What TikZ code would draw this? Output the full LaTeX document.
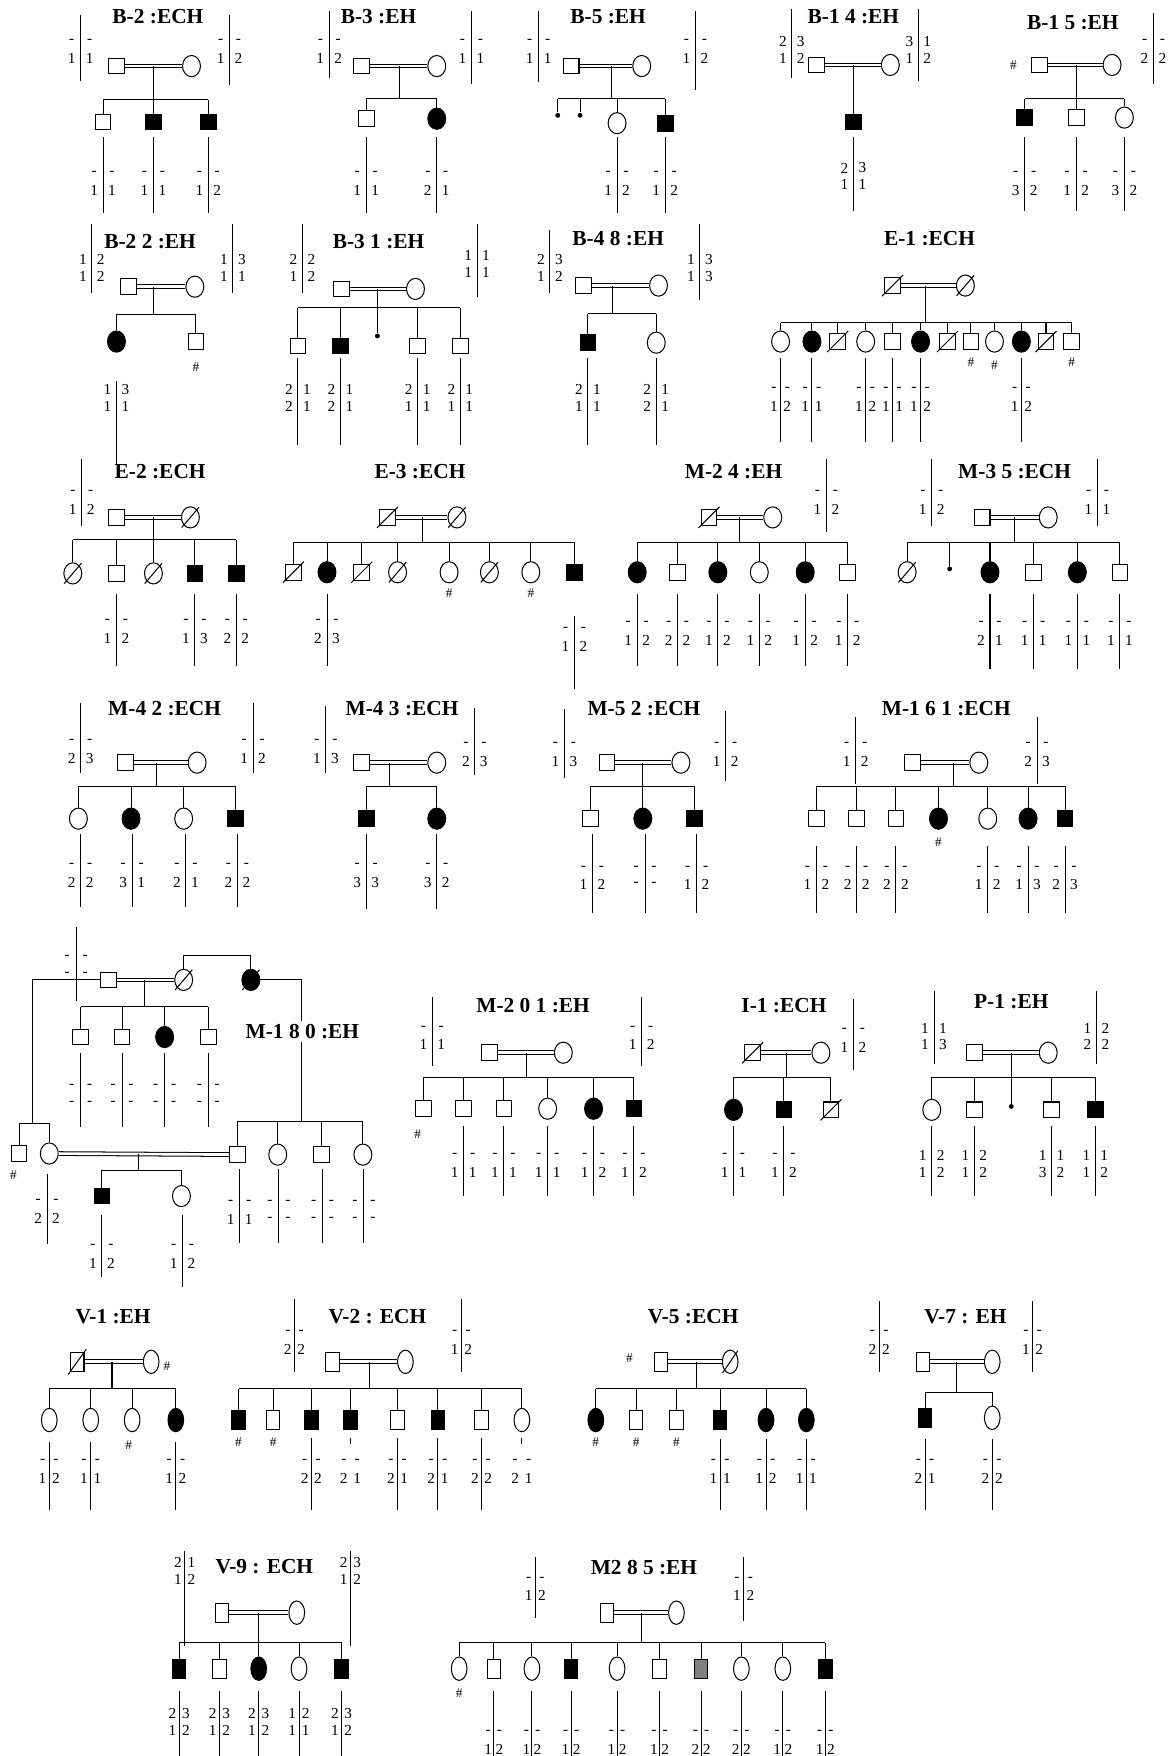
\documentclass[tikz,border=0pt]{standalone}
\usepackage{fontspec}
\setmainfont{Liberation Serif}
\usetikzlibrary{shapes.geometric}
% haplotype bar: name, x, top, bottom, text y, left top, left bottom, right top, right bottom
\newcommand{\hapoff}{8}
\newcommand{\hapbar}[9]{%
  \draw (#2,#3) -- (#2,#4);
  \node[hl] (#1a) at ({#2-\hapoff},#5) {#6};
  \node[hl] (#1b) at ({#2-\hapoff},{#5+15}) {#7};
  \node[hl] (#1c) at ({#2+\hapoff},#5) {#8};
  \node[hl] (#1d) at ({#2+\hapoff},{#5+15}) {#9};
}
\begin{document}
\begin{tikzpicture}[x=0.55pt, y=-0.55pt, line width=0.5pt,
  every node/.style={inner sep=0pt},
  ttl/.style={font=\fontsize{10.5}{12}\selectfont\bfseries, inner sep=1.5pt},
  hl/.style={font=\fontsize{7.5}{8}\selectfont},
  hs/.style={font=\fontsize{6.5}{7}\selectfont},
  sq/.style={draw, rectangle, minimum width=7.7pt, minimum height=7.7pt},
  ci/.style={draw, ellipse, minimum width=8.8pt, minimum height=10.4pt},
  sqa/.style={sq, fill=black},
  cia/.style={ci, fill=black},
  sqd/.style={sq, dec},
  cid/.style={ci, dec},
  sqg/.style={sq, fill=gray},
  dot/.style={circle, fill=black, minimum size=2.4pt},
  dec/.style={append after command={(\tikzlastnode.south west) edge[shorten <=-1.5pt, shorten >=-1.5pt] (\tikzlastnode.north east)}},
  mar/.style={double, double distance=1.3pt}]
\useasboundingbox (0,0) rectangle (1049,1568);

%% ---------- row 1 ----------
% B-2
\node[ttl] (b2) at (141,15) {B-2 :ECH};
\node[sq] (b2f) at (104,59) {};
\node[ci] (b2m) at (171,59) {};
\draw[mar] (b2f) -- (b2m);
\coordinate (b2s) at (137,89);
\draw (b2s |- b2f) -- (b2s);
\foreach \x/\s [count=\i] in {92/sq,137/sqa,186/sqa} {
  \node[\s] (b2c\i) at (\x,109) {};
  \draw (b2c\i) -- (b2c\i |- b2s);
}
\draw (b2c1 |- b2s) -- (b2c3 |- b2s);
\hapbar{b2hf}{72}{13}{72}{37}{-}{1}{-}{1}
\hapbar{b2hm}{205}{13}{76}{37}{-}{1}{-}{2}
\foreach \x/\la/\lb/\ra/\rb [count=\i] in {92/-/1/-/1,137/-/1/-/1,186/-/1/-/2}
  \hapbar{b2k\i}{\x}{122}{190}{155}{\la}{\lb}{\ra}{\rb};

% B-3
\node[ttl] (b3) at (338,15) {B-3 :EH};
\node[sq] (b3f) at (323,59) {};
\node[ci] (b3m) at (390,59) {};
\draw[mar] (b3f) -- (b3m);
\coordinate (b3s) at (357,88);
\draw (b3s |- b3f) -- (b3s);
\foreach \x/\s [count=\i] in {327/sq,390/cia} {
  \node[\s] (b3c\i) at (\x,106) {};
  \draw (b3c\i) -- (b3c\i |- b3s);
}
\draw (b3c1 |- b3s) -- (b3c2 |- b3s);
\hapbar{b3hf}{294}{10}{70}{37}{-}{1}{-}{2}
\hapbar{b3hm}{421}{10}{75}{37}{-}{1}{-}{1}
\foreach \x/\la/\lb/\ra/\rb [count=\i] in {327/-/1/-/1,390/-/2/-/1}
  \hapbar{b3k\i}{\x}{122}{190}{155}{\la}{\lb}{\ra}{\rb};

% B-5
\node[ttl] (b5) at (543,15) {B-5 :EH};
\node[sq] (b5f) at (510,59) {};
\node[ci] (b5m) at (573,59) {};
\draw[mar] (b5f) -- (b5m);
\coordinate (b5s) at (546,88);
\draw (b5s |- b5f) -- (b5s);
\foreach \x/\y/\s [count=\i] in {498/103/dot,518/103/dot,551/110/ci,594/110/sqa} {
  \node[\s] (b5c\i) at (\x,\y) {};
  \draw (b5c\i) -- (b5c\i |- b5s);
}
\draw (b5c1 |- b5s) -- (b5c4 |- b5s);
\hapbar{b5hf}{481}{10}{73}{37}{-}{1}{-}{1}
\hapbar{b5hm}{621}{10}{80}{37}{-}{1}{-}{2}
\foreach \x/\la/\lb/\ra/\rb [count=\i] in {551/-/1/-/2,594/-/1/-/2}
  \hapbar{b5k\i}{\x}{122}{190}{155}{\la}{\lb}{\ra}{\rb};

% B-14
\node[ttl] (b14) at (762,15) {B-1 4 :EH};
\node[sq] (b14f) at (729,58) {};
\node[ci] (b14m) at (795,58) {};
\draw[mar] (b14f) -- (b14m);
\node[sqa] (b14c1) at (762,109) {};
\draw (b14c1 |- b14f) -- (b14c1);
\hapbar{b14hf}{707}{8}{70}{37}{2}{1}{3}{2}
\hapbar{b14hm}{820}{8}{72}{37}{3}{1}{1}{2}
\hapbar{b14k1}{762}{122}{188}{150}{2}{1}{3}{1}

% B-15
\node[ttl] (b15) at (958,20) {B-1 5 :EH};
\node[sq] (b15f) at (928,58) {};
\node[hs] (b15x) at (905,58) {\#};
\node[ci] (b15m) at (993,58) {};
\draw[mar] (b15f) -- (b15m);
\coordinate (b15s) at (961,88);
\draw (b15s |- b15f) -- (b15s);
\foreach \x/\s [count=\i] in {915/sqa,961/sq,1004/ci} {
  \node[\s] (b15c\i) at (\x,105) {};
  \draw (b15c\i) -- (b15c\i |- b15s);
}
\draw (b15c1 |- b15s) -- (b15c3 |- b15s);
\hapbar{b15hm}{1030}{12}{75}{37}{-}{2}{-}{2}
\foreach \x/\la/\lb/\ra/\rb [count=\i] in {915/-/3/-/2,961/-/1/-/2,1004/-/3/-/2}
  \hapbar{b15k\i}{\x}{122}{188}{155}{\la}{\lb}{\ra}{\rb};

%% ---------- row 2 ----------
% B-22
\node[ttl] (b22) at (134,216) {B-2 2 :EH};
\node[sq] (b22f) at (115,256) {};
\node[ci] (b22m) at (174,256) {};
\draw[mar] (b22f) -- (b22m);
\coordinate (b22s) at (137,281);
\draw (b22s |- b22f) -- (b22s);
\foreach \x/\s [count=\i] in {104/cia,175/sq} {
  \node[\s] (b22c\i) at (\x,305) {};
  \draw (b22c\i) -- (b22c\i |- b22s);
}
\draw (b22c1 |- b22s) -- (b22c2 |- b22s);
\node[hs] (b22x) at (175,328) {\#};
\hapbar{b22hf}{82}{200}{262}{232}{1}{1}{2}{2}
\hapbar{b22hm}{208}{200}{262}{232}{1}{1}{3}{1}
\hapbar{b22k1}{104}{340}{415}{348}{1}{1}{3}{1}

% B-31
\node[ttl] (b31) at (338,216) {B-3 1 :EH};
\node[sq] (b31f) at (305,258) {};
\node[ci] (b31m) at (371,258) {};
\draw[mar] (b31f) -- (b31m);
\coordinate (b31s) at (337,275);
\draw (b31s |- b31f) -- (b31s);
\foreach \x/\y/\s [count=\i] in {266/309/sq,304/309/sqa,337/300/dot,373/309/sq,411/309/sq} {
  \node[\s] (b31c\i) at (\x,\y) {};
  \draw (b31c\i) -- (b31c\i |- b31s);
}
\draw (b31c1 |- b31s) -- (b31c5 |- b31s);
\hapbar{b31hf}{270}{200}{262}{232}{2}{1}{2}{2}
\hapbar{b31hm}{426}{200}{265}{228}{1}{1}{1}{1}
\foreach \x/\la/\lb/\ra/\rb [count=\i] in {266/2/2/1/1,304/2/2/1/1,373/2/1/1/1,411/2/1/1/1}
  \hapbar{b31k\i}{\x}{320}{397}{348}{\la}{\lb}{\ra}{\rb};

% B-48
\node[ttl] (b48) at (552,213) {B-4 8 :EH};
\node[sq] (b48f) at (521,255) {};
\node[ci] (b48m) at (588,255) {};
\draw[mar] (b48f) -- (b48m);
\coordinate (b48s) at (547,280);
\draw (b48s |- b48f) -- (b48s);
\foreach \x/\s [count=\i] in {525/sqa,586/ci} {
  \node[\s] (b48c\i) at (\x,306) {};
  \draw (b48c\i) -- (b48c\i |- b48s);
}
\draw (b48c1 |- b48s) -- (b48c2 |- b48s);
\hapbar{b48hf}{491}{205}{262}{232}{2}{1}{3}{2}
\hapbar{b48hm}{625}{200}{268}{232}{1}{1}{3}{3}
\foreach \x/\la/\lb/\ra/\rb [count=\i] in {525/2/1/1/1,586/2/2/1/1}
  \hapbar{b48k\i}{\x}{320}{397}{348}{\la}{\lb}{\ra}{\rb};

% E-1
\node[ttl] (e1) at (830,213) {E-1 :ECH};
\node[sqd] (e1f) at (797,255) {};
\node[cid] (e1m) at (862,255) {};
\draw[mar] (e1f) -- (e1m);
\coordinate (e1s) at (826,288);
\draw (e1s |- e1f) -- (e1s);
\foreach \x/\s [count=\i] in {697/ci,725/cia,748/sqd,773/ci,797/sq,822/cia,846/sqd,867/sq,888/ci,912/cia,934/sqd,957/sq} {
  \node[\s] (e1c\i) at (\x,305) {};
  \draw (e1c\i) -- (e1c\i |- e1s);
}
\draw (e1c1 |- e1s) -- (e1c12 |- e1s);
\foreach \x/\y [count=\i] in {867/323,888/326,957/323}
  \node[hs] (e1x\i) at (\x,\y) {\#};
\begin{scope}
\renewcommand{\hapoff}{6}
\foreach \x/\la/\lb/\ra/\rb [count=\i] in {697/-/1/-/2,725/-/1/-/1,773/-/1/-/2,797/-/1/-/1,822/-/1/-/2,912/-/1/-/2}
  \hapbar{e1k\i}{\x}{320}{395}{348}{\la}{\lb}{\ra}{\rb};
\end{scope}

%% ---------- row 3 ----------
% E-2
\node[ttl] (e2) at (143,421) {E-2 :ECH};
\node[sq] (e2f) at (104,462) {};
\node[cid] (e2m) at (170,462) {};
\draw[mar] (e2f) -- (e2m);
\coordinate (e2s) at (137,482);
\draw (e2s |- e2f) -- (e2s);
\foreach \x/\s [count=\i] in {65/cid,104/sq,137/cid,174/sqa,211/sqa} {
  \node[\s] (e2c\i) at (\x,512) {};
  \draw (e2c\i) -- (e2c\i |- e2s);
}
\draw (e2c1 |- e2s) -- (e2c5 |- e2s);
\hapbar{e2hf}{73}{410}{470}{440}{-}{1}{-}{2}
\foreach \x/\la/\lb/\ra/\rb [count=\i] in {104/-/1/-/2,174/-/1/-/3,211/-/2/-/2}
  \hapbar{e2k\i}{\x}{530}{595}{555}{\la}{\lb}{\ra}{\rb};

% E-3
\node[ttl] (e3) at (375,421) {E-3 :ECH};
\node[sqd] (e3f) at (346,462) {};
\node[cid] (e3m) at (408,462) {};
\draw[mar] (e3f) -- (e3m);
\coordinate (e3s) at (377,484);
\draw (e3s |- e3f) -- (e3s);
\foreach \x/\s [count=\i] in {262/sqd,292/cia,323/sqd,355/cid,401/ci,437/cid,474/ci,513/sqa} {
  \node[\s] (e3c\i) at (\x,511) {};
  \draw (e3c\i) -- (e3c\i |- e3s);
}
\draw (e3c1 |- e3s) -- (e3c8 |- e3s);
\node[hs] (e3x1) at (401,530) {\#};
\node[hs] (e3x2) at (474,530) {\#};
\hapbar{e3k1}{292}{530}{595}{555}{-}{2}{-}{3}
\hapbar{e3k2}{513}{550}{615}{562}{-}{1}{-}{2}

% M-24
\node[ttl] (m24) at (655,421) {M-2 4 :EH};
\node[sqd] (m24f) at (633,462) {};
\node[ci] (m24m) at (690,462) {};
\draw[mar] (m24f) -- (m24m);
\coordinate (m24s) at (660,484);
\draw (m24s |- m24f) -- (m24s);
\foreach \x/\s [count=\i] in {569/cia,605/sq,641/cia,678/ci,719/cia,757/sq} {
  \node[\s] (m24c\i) at (\x,511) {};
  \draw (m24c\i) -- (m24c\i |- m24s);
}
\draw (m24c1 |- m24s) -- (m24c6 |- m24s);
\hapbar{m24hm}{738}{410}{475}{440}{-}{1}{-}{2}
\foreach \x/\la/\lb/\ra/\rb [count=\i] in {569/-/1/-/2,605/-/2/-/2,641/-/1/-/2,678/-/1/-/2,719/-/1/-/2,757/-/1/-/2}
  \hapbar{m24k\i}{\x}{530}{595}{557}{\la}{\lb}{\ra}{\rb};

% M-35
\node[ttl] (m35) at (906,421) {M-3 5 :ECH};
\node[sq] (m35f) at (877,462) {};
\node[ci] (m35m) at (936,462) {};
\draw[mar] (m35f) -- (m35m);
\coordinate (m35s) at (906,484);
\draw (m35s |- m35f) -- (m35s);
\foreach \x/\y/\s [count=\i] in {810/511/cid,848/508/dot,884/511/cia,923/511/sq,962/511/cia,1000/511/sq} {
  \node[\s] (m35c\i) at (\x,\y) {};
  \draw (m35c\i) -- (m35c\i |- m35s);
}
\draw (m35c1 |- m35s) -- (m35c6 |- m35s);
\hapbar{m35hf}{832}{410}{470}{440}{-}{1}{-}{2}
\hapbar{m35hm}{980}{410}{470}{440}{-}{1}{-}{1}
\foreach \x/\la/\lb/\ra/\rb [count=\i] in {884/-/2/-/1,923/-/1/-/1,962/-/1/-/1,1000/-/1/-/1}
  \hapbar{m35k\i}{\x}{530}{597}{557}{\la}{\lb}{\ra}{\rb};

%% ---------- row 4 ----------
% M-42
\node[ttl] (m42) at (147,633) {M-4 2 :ECH};
\node[sq] (m42f) at (112,681) {};
\node[ci] (m42m) at (176,681) {};
\draw[mar] (m42f) -- (m42m);
\coordinate (m42s) at (140,702);
\draw (m42s |- m42f) -- (m42s);
\foreach \x/\s [count=\i] in {70/ci,117/cia,164/ci,210/sqa} {
  \node[\s] (m42c\i) at (\x,731) {};
  \draw (m42c\i) -- (m42c\i |- m42s);
}
\draw (m42c1 |- m42s) -- (m42c4 |- m42s);
\hapbar{m42hf}{72}{628}{690}{662}{-}{2}{-}{3}
\hapbar{m42hm}{226}{628}{690}{662}{-}{1}{-}{2}
\foreach \x/\la/\lb/\ra/\rb [count=\i] in {72/-/2/-/2,118/-/3/-/1,166/-/2/-/1,212/-/2/-/2}
  \hapbar{m42k\i}{\x}{745}{810}{773}{\la}{\lb}{\ra}{\rb};

% M-43
\node[ttl] (m43) at (359,633) {M-4 3 :ECH};
\node[sq] (m43f) at (323,681) {};
\node[ci] (m43m) at (390,681) {};
\draw[mar] (m43f) -- (m43m);
\coordinate (m43s) at (348,702);
\draw (m43s |- m43f) -- (m43s);
\foreach \x/\s [count=\i] in {327/sqa,390/cia} {
  \node[\s] (m43c\i) at (\x,731) {};
  \draw (m43c\i) -- (m43c\i |- m43s);
}
\draw (m43c1 |- m43s) -- (m43c2 |- m43s);
\hapbar{m43hf}{291}{630}{690}{662}{-}{1}{-}{3}
\hapbar{m43hm}{424}{632}{692}{665}{-}{2}{-}{3}
\foreach \x/\la/\lb/\ra/\rb [count=\i] in {327/-/3/-/3,390/-/3/-/2}
  \hapbar{m43k\i}{\x}{745}{812}{773}{\la}{\lb}{\ra}{\rb};

% M-52
\node[ttl] (m52) at (575,633) {M-5 2 :ECH};
\node[sq] (m52f) at (542,681) {};
\node[ci] (m52m) at (608,681) {};
\draw[mar] (m52f) -- (m52m);
\coordinate (m52s) at (574,702);
\draw (m52s |- m52f) -- (m52s);
\foreach \x/\s [count=\i] in {527/sq,574/cia,620/sqa} {
  \node[\s] (m52c\i) at (\x,731) {};
  \draw (m52c\i) -- (m52c\i |- m52s);
}
\draw (m52c1 |- m52s) -- (m52c3 |- m52s);
\hapbar{m52hf}{504}{633}{695}{665}{-}{1}{-}{3}
\hapbar{m52hm}{648}{635}{697}{665}{-}{1}{-}{2}
\foreach \x/\la/\lb/\ra/\rb [count=\i] in {529/-/1/-/2,576/-/-/-/-,622/-/1/-/2}
  \hapbar{m52k\i}{\x}{745}{815}{775}{\la}{\lb}{\ra}{\rb};

% M-161
\node[ttl] (m161) at (845,633) {M-1 6 1 :ECH};
\node[sq] (m161f) at (815,681) {};
\node[ci] (m161m) at (874,681) {};
\draw[mar] (m161f) -- (m161m);
\coordinate (m161s) at (851,702);
\draw (m161s |- m161f) -- (m161s);
\foreach \x/\s [count=\i] in {729/sq,765/sq,800/sq,838/cia,882/ci,918/cia,951/sqa} {
  \node[\s] (m161c\i) at (\x,731) {};
  \draw (m161c\i) -- (m161c\i |- m161s);
}
\draw (m161c1 |- m161s) -- (m161c7 |- m161s);
\node[hs] (m161x) at (838,752) {\#};
\hapbar{m161hf}{764}{640}{700}{665}{-}{1}{-}{2}
\hapbar{m161hm}{926}{640}{700}{665}{-}{2}{-}{3}
\foreach \x/\la/\lb/\ra/\rb [count=\i] in {729/-/1/-/2,765/-/2/-/2,800/-/2/-/2,882/-/1/-/2,918/-/1/-/3,951/-/2/-/3}
  \hapbar{m161k\i}{\x}{755}{815}{775}{\la}{\lb}{\ra}{\rb};

%% ---------- row 5 ----------
% M-180
\node[sq] (m180f) at (97,875) {};
\node[cid] (m180m) at (164,875) {};
\node[cia, dec] (m180a) at (224,875) {};
\draw[mar] (m180f) -- (m180m);
\coordinate (m180t) at (194,853);
\draw (m180m.north) -- (m180m.north |- m180t) -- (m180a.north |- m180t) -- (m180a.north);
\hapbar{m180hf}{68}{828}{894}{855}{-}{-}{-}{-}
% first sibship
\coordinate (m180s) at (129,899);
\draw (m180s |- m180f) -- (m180s);
\foreach \x/\s [count=\i] in {72/sq,109/sq,147/cia,186/sq} {
  \node[\s] (m180c\i) at (\x,926) {};
  \draw (m180c\i) -- (m180c\i |- m180s);
  \hapbar{m180k\i}{\x}{940}{1006}{970}{-}{-}{-}{-}
}
\draw (m180c1 |- m180s) -- (m180c4 |- m180s);
% father's other branch
\coordinate (m180l) at (29,1003);
\draw (m180f) -- (m180f -| m180l) -- (m180l);
\node[sq] (m180g1) at (17,1030) {};
\node[ci] (m180g2) at (44,1030) {};
\foreach \i in {1,2}
  \draw (m180g\i) -- (m180g\i |- m180l);
\draw (m180g1 |- m180l) -- (m180g2 |- m180l);
\node[hs] (m180x) at (12,1049) {\#};
\hapbar{m180hg}{42}{1048}{1111}{1073}{-}{2}{-}{2}
% aunt's branch
\coordinate (m180r) at (269,1001);
\draw (m180a) -- (m180a -| m180r) -- (m180r);
\foreach \x/\s [count=\i] in {212/sq,248/ci,287/sq,324/ci} {
  \node[\s] (m180r\i) at (\x,1031) {};
  \draw (m180r\i) -- (m180r\i |- m180r);
}
\draw (m180r1 |- m180r) -- (m180r4 |- m180r);
\foreach \x/\la/\lb/\ra/\rb [count=\i] in {214/-/1/-/1,249/-/-/-/-,288/-/-/-/-,325/-/-/-/-}
  \hapbar{m180q\i}{\x}{1044}{1110}{1074}{\la}{\lb}{\ra}{\rb};
\node[ttl, fill=white] (m180) at (270,921) {M-1 8 0 :EH};
% consanguineous couple
\draw[mar] (m180g2) -- (m180r1);
\coordinate (m180u) at (124,1045);
\draw (m180u |- m180g2) -- (m180u);
\foreach \x/\s [count=\i] in {91/sqa,162/ci} {
  \node[\s] (m180d\i) at (\x,1068) {};
  \draw (m180d\i) -- (m180d\i |- m180u);
}
\draw (m180d1 |- m180u) -- (m180d2 |- m180u);
\hapbar{m180e1}{91}{1085}{1140}{1113}{-}{1}{-}{2}
\hapbar{m180e2}{163}{1085}{1149}{1113}{-}{1}{-}{2}

% M-201
\node[ttl] (m201) at (476,898) {M-2 0 1 :EH};
\node[sq] (m201f) at (437,940) {};
\node[ci] (m201m) at (503,940) {};
\draw[mar] (m201f) -- (m201m);
\coordinate (m201s) at (470,962);
\draw (m201s |- m201f) -- (m201s);
\foreach \x/\s [count=\i] in {378/sq,414/sq,450/sq,489/ci,530/cia,566/sqa} {
  \node[\s] (m201c\i) at (\x,990) {};
  \draw (m201c\i) -- (m201c\i |- m201s);
}
\draw (m201c1 |- m201s) -- (m201c6 |- m201s);
\node[hs] (m201x) at (373,1013) {\#};
\hapbar{m201hf}{386}{890}{952}{918}{-}{1}{-}{1}
\hapbar{m201hm}{573}{890}{952}{918}{-}{1}{-}{2}
\foreach \x/\la/\lb/\ra/\rb [count=\i] in {414/-/1/-/1,450/-/1/-/1,489/-/1/-/1,530/-/1/-/2,566/-/1/-/2}
  \hapbar{m201k\i}{\x}{1005}{1068}{1032}{\la}{\lb}{\ra}{\rb};

% I-1
\node[ttl] (i1) at (700,898) {I-1 :ECH};
\node[sqd] (i1f) at (672,940) {};
\node[ci] (i1m) at (733,940) {};
\draw[mar] (i1f) -- (i1m);
\coordinate (i1s) at (702,962);
\draw (i1s |- i1f) -- (i1s);
\foreach \x/\s [count=\i] in {655/cia,700/sqa,742/sqd} {
  \node[\s] (i1c\i) at (\x,991) {};
  \draw (i1c\i) -- (i1c\i |- i1s);
}
\draw (i1c1 |- i1s) -- (i1c3 |- i1s);
\hapbar{i1hm}{762}{892}{955}{920}{-}{1}{-}{2}
\foreach \x/\la/\lb/\ra/\rb [count=\i] in {655/-/1/-/1,700/-/1/-/2}
  \hapbar{i1k\i}{\x}{1005}{1068}{1032}{\la}{\lb}{\ra}{\rb};

% P-1
\node[ttl] (p1) at (903,894) {P-1 :EH};
\node[sq] (p1f) at (870,940) {};
\node[ci] (p1m) at (936,940) {};
\draw[mar] (p1f) -- (p1m);
\coordinate (p1s) at (903,962);
\draw (p1s |- p1f) -- (p1s);
\foreach \x/\y/\s [count=\i] in {832/991/ci,870/991/sq,903/988/dot,939/991/sq,978/991/sqa} {
  \node[\s] (p1c\i) at (\x,\y) {};
  \draw (p1c\i) -- (p1c\i |- p1s);
}
\draw (p1c1 |- p1s) -- (p1c5 |- p1s);
\hapbar{p1hf}{834}{885}{950}{918}{1}{1}{1}{3}
\hapbar{p1hm}{979}{885}{950}{918}{1}{2}{2}{2}
\foreach \x/\la/\lb/\ra/\rb [count=\i] in {832/1/1/2/2,870/1/1/2/2,939/1/3/1/2,978/1/1/1/2}
  \hapbar{p1k\i}{\x}{1005}{1068}{1032}{\la}{\lb}{\ra}{\rb};

%% ---------- rows 6 and 7: narrower symbols ----------
\begin{scope}[sq/.style={draw, rectangle, minimum width=6.6pt, minimum height=9.4pt},
  ci/.style={draw, ellipse, minimum width=7.7pt, minimum height=11.5pt}]
\renewcommand{\hapoff}{6}
% V-1
\node[ttl] (v1) at (101,1176) {V-1 :EH};
\node[sqd] (v1f) at (69,1216) {};
\node[ci] (v1m) at (135,1216) {};
\node[hs] (v1x) at (149,1220) {\#};
\draw[mar] (v1f) -- (v1m);
\coordinate (v1s) at (100,1240);
\draw (v1s |- v1f) -- (v1s);
\foreach \x/\s [count=\i] in {44/ci,81/ci,118/ci,157/cia} {
  \node[\s] (v1c\i) at (\x,1268) {};
  \draw (v1c\i) -- (v1c\i |- v1s);
}
\draw (v1c1 |- v1s) -- (v1c4 |- v1s);
\node[hs] (v1y) at (115,1290) {\#};
\foreach \x/\la/\lb/\ra/\rb [count=\i] in {44/-/1/-/2,81/-/1/-/1,157/-/1/-/2}
  \hapbar{v1k\i}{\x}{1288}{1348}{1305}{\la}{\lb}{\ra}{\rb};

% V-2
\node[ttl] (v2) at (337,1176) {V-2 : ECH};
\node[sq] (v2f) at (297,1216) {};
\node[ci] (v2m) at (362,1216) {};
\draw[mar] (v2f) -- (v2m);
\coordinate (v2s) at (330,1240);
\draw (v2s |- v2f) -- (v2s);
\foreach \x/\s [count=\i] in {213/sqa,244/sq,278/sqa,313/sqa,355/sq,391/sqa,430/sq,466/ci} {
  \node[\s] (v2c\i) at (\x,1268) {};
  \draw (v2c\i) -- (v2c\i |- v2s);
}
\draw (v2c1 |- v2s) -- (v2c8 |- v2s);
\node[hs] (v2x1) at (213,1288) {\#};
\node[hs] (v2x2) at (244,1288) {\#};
\hapbar{v2hf}{263}{1160}{1225}{1190}{-}{2}{-}{2}
\hapbar{v2hm}{412}{1160}{1225}{1190}{-}{1}{-}{2}
\foreach \x/\t/\la/\lb/\ra/\rb [count=\i] in {278/1348/-/2/-/2,313/1289/-/2/-/1,355/1348/-/2/-/1,391/1348/-/2/-/1,430/1348/-/2/-/2,466/1289/-/2/-/1}
  \hapbar{v2k\i}{\x}{1284}{\t}{1305}{\la}{\lb}{\ra}{\rb};

% V-5
\node[ttl] (v5) at (619,1176) {V-5 :ECH};
\node[sq] (v5f) at (590,1216) {};
\node[hs] (v5x) at (562,1213) {\#};
\node[cid] (v5m) at (652,1216) {};
\draw[mar] (v5f) -- (v5m);
\coordinate (v5s) at (622,1240);
\draw (v5s |- v5f) -- (v5s);
\foreach \x/\s [count=\i] in {532/cia,568/sq,604/sq,643/sqa,684/cia,720/cia} {
  \node[\s] (v5c\i) at (\x,1268) {};
  \draw (v5c\i) -- (v5c\i |- v5s);
}
\draw (v5c1 |- v5s) -- (v5c6 |- v5s);
\foreach \x [count=\i] in {532,568,604}
  \node[hs] (v5y\i) at (\x,1288) {\#};
\foreach \x/\la/\lb/\ra/\rb [count=\i] in {643/-/1/-/1,684/-/1/-/2,720/-/1/-/1}
  \hapbar{v5k\i}{\x}{1285}{1348}{1305}{\la}{\lb}{\ra}{\rb};

% V-7
\node[ttl] (v7) at (862,1176) {V-7 : EH};
\node[sq] (v7f) at (824,1216) {};
\node[ci] (v7m) at (886,1216) {};
\draw[mar] (v7f) -- (v7m);
\coordinate (v7s) at (854,1243);
\draw (v7s |- v7f) -- (v7s);
\foreach \x/\s [count=\i] in {826/sqa,886/ci} {
  \node[\s] (v7c\i) at (\x,1266) {};
  \draw (v7c\i) -- (v7c\i |- v7s);
}
\draw (v7c1 |- v7s) -- (v7c2 |- v7s);
\hapbar{v7hf}{785}{1162}{1225}{1190}{-}{2}{-}{2}
\hapbar{v7hm}{922}{1162}{1225}{1190}{-}{1}{-}{2}
\foreach \x/\la/\lb/\ra/\rb [count=\i] in {826/-/2/-/1,886/-/2/-/2}
  \hapbar{v7k\i}{\x}{1285}{1348}{1305}{\la}{\lb}{\ra}{\rb};

% V-9
\node[ttl] (v9) at (236,1399) {V-9 : ECH};
\node[sq] (v9f) at (198,1440) {};
\node[ci] (v9m) at (265,1440) {};
\draw[mar] (v9f) -- (v9m);
\coordinate (v9s) at (231,1467);
\draw (v9s |- v9f) -- (v9s);
\foreach \x/\s [count=\i] in {160/sqa,196/sq,231/cia,267/ci,305/sqa} {
  \node[\s] (v9c\i) at (\x,1490) {};
  \draw (v9c\i) -- (v9c\i |- v9s);
}
\draw (v9c1 |- v9s) -- (v9c5 |- v9s);
\hapbar{v9hf}{165}{1385}{1470}{1395}{2}{1}{1}{2}
\hapbar{v9hm}{313}{1385}{1470}{1395}{2}{1}{3}{2}
\foreach \x/\la/\lb/\ra/\rb [count=\i] in {160/2/1/3/2,196/2/1/3/2,231/2/1/3/2,267/1/1/2/1,305/2/1/3/2}
  \hapbar{v9k\i}{\x}{1510}{1568}{1530}{\la}{\lb}{\ra}{\rb};

% M285
\node[ttl] (m285) at (575,1400) {M2 8 5 :EH};
\node[sq] (m285f) at (542,1440) {};
\node[ci] (m285m) at (604,1440) {};
\draw[mar] (m285f) -- (m285m);
\coordinate (m285s) at (573,1467);
\draw (m285s |- m285f) -- (m285s);
\foreach \x/\s [count=\i] in {410/ci,441/sq,475/ci,510/sqa,551/ci,589/sq,626/sqg,662/ci,699/ci,737/sqa} {
  \node[\s] (m285c\i) at (\x,1490) {};
  \draw (m285c\i) -- (m285c\i |- m285s);
}
\draw (m285c1 |- m285s) -- (m285c10 |- m285s);
\node[hs] (m285x) at (410,1512) {\#};
\hapbar{m285hf}{478}{1390}{1445}{1410}{-}{1}{-}{2}
\hapbar{m285hm}{664}{1390}{1447}{1410}{-}{1}{-}{2}
\renewcommand{\hapoff}{5}
\foreach \x/\la/\lb/\ra/\rb [count=\i] in {441/-/1/-/2,475/-/1/-/2,510/-/1/-/2,551/-/1/-/2,589/-/1/-/2,626/-/2/-/2,662/-/2/-/2,699/-/1/-/2,737/-/1/-/2}
  \hapbar{m285k\i}{\x}{1510}{1568}{1547}{\la}{\lb}{\ra}{\rb};
\end{scope}
\end{tikzpicture}
\end{document}
